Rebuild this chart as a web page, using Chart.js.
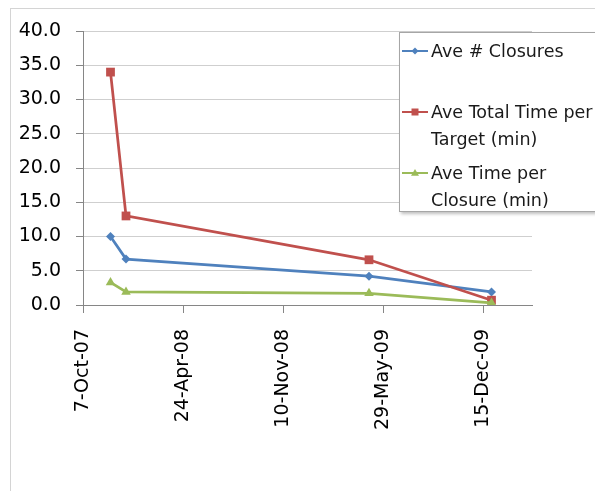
<!DOCTYPE html>
<html>
<head>
<meta charset="utf-8">
<script src="https://cdn.jsdelivr.net/npm/chart.js@4.4.1/dist/chart.umd.min.js"></script>
<style>
    html, body { margin: 0; padding: 0; background: #fff; overflow: hidden; }
    #wrap { position: relative; width: 595px; height: 491px; overflow: hidden; }
    #frame {
        position: absolute; left: 10px; top: 8px; width: 620px; height: 520px;
        border: 1px solid #d4d4d4;
    }
    #chart { position: absolute; left: 0; top: 0; }
    #legend {
        position: absolute; left: 399px; top: 32px; width: 260px; height: 180px;
        background: #fff; border: 1px solid #a6a6a6;
        box-shadow: 2px 2px 3px rgba(0, 0, 0, 0.25);
        font-family: 'DejaVu Sans', sans-serif; font-size: 17.5px; color: #1a1a1a;
        box-sizing: border-box; padding: 5px 0 0 2px;
    }
    .entry { display: flex; align-items: flex-start; height: 61px; }
    .entry canvas { margin-top: 7px; margin-right: 3px; flex: none; }
    .entry span { line-height: 27px; white-space: nowrap; }
</style>
</head>
<body>
<div id="wrap">
    <div id="frame"></div>
    <canvas id="chart" width="595" height="491"></canvas>
    <div id="legend"></div>
</div>
<script>
// Data
const pointDates = ['2007-12-01', '2008-01-01', '2009-05-01', '2010-01-01'];
const aveClosures = [10.0, 6.7, 4.2, 1.9];
const aveTotalTime = [34.0, 13.0, 6.6, 0.7];
const aveTimePerClosure = [3.3, 1.9, 1.7, 0.3];

const xTickLabels = ['7-Oct-07', '24-Apr-08', '10-Nov-08', '29-May-09', '15-Dec-09'];
const xAxisEnd = '2010-03-23';
const yMin = 0, yMax = 40, yStep = 5;

const seriesLabels = [
    ['Ave # Closures'],
    ['Ave Total Time per', 'Target (min)'],
    ['Ave Time per', 'Closure (min)']
];

const MONTHS = ['Jan', 'Feb', 'Mar', 'Apr', 'May', 'Jun', 'Jul', 'Aug', 'Sep', 'Oct', 'Nov', 'Dec'];

function isoToDay(s) {
    const [y, m, d] = s.split('-').map(Number);
    return Date.UTC(y, m - 1, d) / 86400000;
}

function labelToDay(s) {
    const [d, mon, yy] = s.split('-');
    return Date.UTC(2000 + Number(yy), MONTHS.indexOf(mon), Number(d)) / 86400000;
}

const tickDays = xTickLabels.map(labelToDay);

function toPoints(values) {
    return values.map((v, i) => ({ x: isoToDay(pointDates[i]), y: v }));
}

const colors = ['#4f81bd', '#c0504d', '#9bbb59'];
const styles = ['rectRot', 'rect', 'triangle'];
const radii = [4.5, 6.2, 5.5];
const seriesValues = [aveClosures, aveTotalTime, aveTimePerClosure];

const axisFont = { family: 'DejaVu Sans', size: 19 };

new Chart(document.getElementById('chart').getContext('2d'), {
    type: 'line',
    data: {
        datasets: seriesValues.map((vals, i) => ({
            label: seriesLabels[i].join(' '),
            data: toPoints(vals),
            borderColor: colors[i],
            backgroundColor: colors[i],
            borderWidth: 2.75,
            pointStyle: styles[i],
            pointRadius: radii[i],
            pointBorderWidth: 0,
            tension: 0,
            order: 3 - i
        }))
    },
    options: {
        responsive: false,
        animation: false,
        layout: { padding: { left: 0, top: 31, right: 63, bottom: 0 } },
        plugins: {
            legend: { display: false },
            tooltip: { enabled: false }
        },
        scales: {
            x: {
                type: 'linear',
                min: tickDays[0],
                max: isoToDay(xAxisEnd),
                afterBuildTicks: scale => {
                    scale.ticks = tickDays.map(v => ({ value: v }));
                },
                afterFit: scale => { scale.height = 186; },
                grid: { drawOnChartArea: false, tickLength: 8, tickColor: '#868686' },
                border: { color: '#868686' },
                ticks: {
                    autoSkip: false,
                    minRotation: 90,
                    maxRotation: 90,
                    padding: 16,
                    color: '#000',
                    font: axisFont,
                    callback: (v, i) => xTickLabels[i]
                }
            },
            y: {
                min: yMin,
                max: yMax,
                afterFit: scale => { scale.width = 83; },
                grid: { color: '#cfcfcf', tickLength: 7, tickColor: '#868686' },
                border: { color: '#868686' },
                ticks: {
                    stepSize: yStep,
                    padding: 15,
                    color: '#000',
                    font: axisFont,
                    callback: v => v.toFixed(1)
                }
            }
        }
    }
});

// Excel-style legend with wrapped labels
function drawMarker(c, color, style, r) {
    const ctx = c.getContext('2d');
    ctx.strokeStyle = color;
    ctx.fillStyle = color;
    ctx.lineWidth = 2;
    ctx.beginPath();
    ctx.moveTo(0, 6);
    ctx.lineTo(26, 6);
    ctx.stroke();
    const x = 13, y = 6;
    ctx.beginPath();
    if (style === 'rect') {
        ctx.rect(x - r, y - r, 2 * r, 2 * r);
    } else if (style === 'rectRot') {
        ctx.moveTo(x, y - r); ctx.lineTo(x + r, y); ctx.lineTo(x, y + r); ctx.lineTo(x - r, y);
    } else {
        ctx.moveTo(x, y - r); ctx.lineTo(x + r, y + r * 0.7); ctx.lineTo(x - r, y + r * 0.7);
    }
    ctx.closePath();
    ctx.fill();
}

const legend = document.getElementById('legend');
const legendRadii = [3.5, 3.5, 4];
seriesLabels.forEach((lines, i) => {
    const row = document.createElement('div');
    row.className = 'entry';
    const c = document.createElement('canvas');
    c.width = 26;
    c.height = 12;
    drawMarker(c, colors[i], styles[i], legendRadii[i]);
    const span = document.createElement('span');
    span.innerHTML = lines.join('<br>');
    row.appendChild(c);
    row.appendChild(span);
    legend.appendChild(row);
});
</script>
</body>
</html>
